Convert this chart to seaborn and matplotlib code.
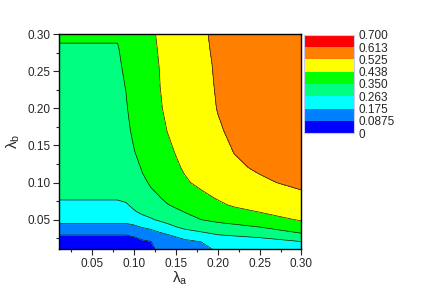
import numpy as np
import seaborn as sns
import matplotlib
matplotlib.use('Agg')
import matplotlib.pyplot as plt
from matplotlib.ticker import MultipleLocator

# grid positions (lambda_a, lambda_b)
lam_a = [0.01, 0.08, 0.09, 0.10, 0.11, 0.12, 0.13, 0.14, 0.16, 0.18, 0.20, 0.22, 0.25, 0.30]
lam_b = [0.01, 0.02, 0.03, 0.04, 0.05, 0.06, 0.07, 0.08, 0.10, 0.12, 0.14, 0.17, 0.20, 0.23, 0.26, 0.28, 0.30]

# values, one list per lambda_a column (bottom -> top)
col_001 = [0.05, 0.07, 0.089, 0.15, 0.20, 0.225, 0.25, 0.27, 0.285, 0.295, 0.305, 0.315, 0.325, 0.333, 0.340, 0.346, 0.356]
col_008 = [0.05, 0.07, 0.089, 0.15, 0.20, 0.225, 0.25, 0.27, 0.285, 0.295, 0.305, 0.315, 0.325, 0.333, 0.340, 0.346, 0.356]
col_009 = [0.05, 0.07, 0.089, 0.15, 0.20, 0.23, 0.255, 0.28, 0.30, 0.312, 0.32, 0.332, 0.343, 0.352, 0.362, 0.368, 0.373]
col_010 = [0.055, 0.072, 0.095, 0.16, 0.215, 0.255, 0.28, 0.295, 0.315, 0.33, 0.347, 0.365, 0.378, 0.388, 0.396, 0.40, 0.405]
col_011 = [0.06, 0.08, 0.11, 0.18, 0.24, 0.275, 0.30, 0.315, 0.34, 0.356, 0.372, 0.388, 0.40, 0.41, 0.415, 0.42, 0.425]
col_012 = [0.065, 0.085, 0.12, 0.20, 0.255, 0.29, 0.315, 0.338, 0.356, 0.375, 0.39, 0.402, 0.41, 0.417, 0.422, 0.425, 0.428]
col_013 = [0.11, 0.135, 0.16, 0.21, 0.275, 0.305, 0.33, 0.348, 0.37, 0.39, 0.403, 0.418, 0.428, 0.435, 0.439, 0.442, 0.446]
col_014 = [0.12, 0.145, 0.175, 0.235, 0.295, 0.325, 0.348, 0.365, 0.39, 0.408, 0.422, 0.44, 0.455, 0.465, 0.475, 0.48, 0.485]
col_016 = [0.14, 0.16, 0.205, 0.285, 0.325, 0.35, 0.372, 0.39, 0.428, 0.446, 0.46, 0.475, 0.485, 0.495, 0.50, 0.505, 0.51]
col_018 = [0.165, 0.175, 0.24, 0.305, 0.35, 0.375, 0.395, 0.42, 0.455, 0.472, 0.485, 0.495, 0.503, 0.508, 0.512, 0.515, 0.517]
col_020 = [0.18, 0.215, 0.265, 0.325, 0.365, 0.395, 0.425, 0.445, 0.475, 0.495, 0.508, 0.519, 0.527, 0.53, 0.532, 0.534, 0.536]
col_022 = [0.195, 0.235, 0.27, 0.335, 0.375, 0.415, 0.448, 0.468, 0.495, 0.515, 0.526, 0.536, 0.543, 0.548, 0.552, 0.555, 0.557]
col_025 = [0.205, 0.24, 0.28, 0.35, 0.405, 0.438, 0.47, 0.49, 0.515, 0.533, 0.543, 0.552, 0.559, 0.565, 0.57, 0.573, 0.575]
col_030 = [0.22, 0.26, 0.34, 0.40, 0.445, 0.47, 0.49, 0.51, 0.54, 0.555, 0.565, 0.575, 0.583, 0.59, 0.595, 0.598, 0.60]

levels = [0, 0.0875, 0.175, 0.263, 0.35, 0.438, 0.525, 0.613, 0.700]
level_labels = ['0', '0.0875', '0.175', '0.263', '0.350', '0.438', '0.525', '0.613', '0.700']
fill_colors = ['#0000ff', '#0080ff', '#00ffff', '#00ff80', '#00ff00', '#ffff00', '#ff8000', '#ff0000']

Z = np.array([col_001, col_008, col_009, col_010, col_011, col_012, col_013, col_014,
              col_016, col_018, col_020, col_022, col_025, col_030]).T

sns.set_style('ticks')
plt.rcParams['font.family'] = ['Liberation Sans', 'DejaVu Sans']
plt.rcParams['mathtext.default'] = 'regular'

fig = plt.figure(figsize=(4.24, 3.0), dpi=100)
ax = fig.add_axes([0.139, 0.169, 0.572, 0.717])

cs = ax.contourf(lam_a, lam_b, Z, levels=levels, colors=fill_colors)
ax.contour(lam_a, lam_b, Z, levels=levels, colors='#1a1a1a', linewidths=0.5)

ax.set_xlim(0.01, 0.30)
ax.set_ylim(0.01, 0.30)
ax.xaxis.set_major_locator(MultipleLocator(0.05))
ax.yaxis.set_major_locator(MultipleLocator(0.05))
ax.xaxis.set_minor_locator(MultipleLocator(0.025))
ax.yaxis.set_minor_locator(MultipleLocator(0.025))
ax.tick_params(which='major', direction='out', length=4, width=0.8, labelsize=8.5, pad=2)
ax.tick_params(which='minor', direction='out', length=2, width=0.8)
ax.xaxis.set_major_formatter(plt.FormatStrFormatter('%.2f'))
ax.yaxis.set_major_formatter(plt.FormatStrFormatter('%.2f'))
for s in ax.spines.values():
    s.set_linewidth(1.0)
    s.set_color('black')
ax.set_xlabel(r'$\lambda_a$', fontsize=11, labelpad=0)
ax.set_ylabel(r'$\lambda_b$', fontsize=11, labelpad=4)

cax = fig.add_axes([0.717, 0.556, 0.118, 0.328])
cb = fig.colorbar(cs, cax=cax, ticks=levels)
cb.set_ticklabels(level_labels)
cb.outline.set_edgecolor('#c8c8f0')
cb.outline.set_linewidth(0.8)
cax.tick_params(length=0, labelsize=8.5, pad=3)

fig.savefig('out.png', dpi=100)
